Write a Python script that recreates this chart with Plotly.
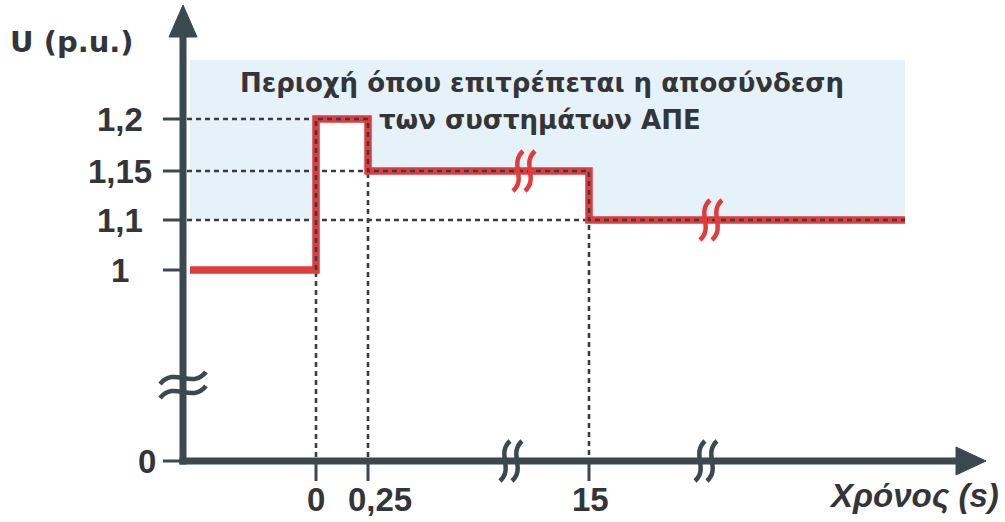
import numpy as np
import plotly.graph_objects as go

# ---------------- data ----------------
# step profile of the allowed voltage (p.u.) versus time (s)
step_t = [-0.5, 0.0, 0.25, 15.0, 60.0]     # start (schematic), 0, 0.25 s, 15 s, end (schematic)
step_u = [1.0, 1.2, 1.15, 1.1, 1.1]
region_top_u = 1.26                         # upper edge of the shaded "disconnection allowed" area

x_tick_vals = [0.0, 0.25, 15.0]
x_tick_text = ["0", "0,25", "15"]
y_tick_vals = [0.0, 1.0, 1.1, 1.15, 1.2]
y_tick_text = ["0", "1", "1,1", "1,15", "1,2"]

title_lines = ["Περιοχή όπου επιτρέπεται η αποσύνδεση", "των συστημάτων ΑΠΕ"]
y_title = "U (p.u.)"
x_title = "Χρόνος (s)"

# ---------------- schematic (broken) axis warps: layout ----------------
W, H = 1005, 522
t_knots = [-0.5, 0.0, 0.25, 15.0, 60.0]
x_knots = [190, 316, 368, 589, 905]            # horizontal positions
u_knots = [0.0, 1.0, 1.1, 1.15, 1.2, 1.26]
y_knots = [61, 252, 302, 351, 403, 462]        # vertical positions (from bottom)


def X(t):
    return np.interp(t, t_knots, x_knots)


def Y(u):
    return np.interp(u, u_knots, y_knots)


def P(py):  # pixel row (from top) -> data y
    return H - py


AX = "#3a4850"
RED = "#e03b3d"
DOT = "#3a3c42"
TXT = "#333538"
SHADE = "#e6f2f9"

x0_axis = 183            # vertical axis position
y0_axis = Y(0.0)         # horizontal axis position

fig = go.Figure()

# shaded region: above max(U, 1.1)
lower = np.maximum(np.array(step_u), 1.1)
px, py = [], []
for i in range(len(step_t) - 1):
    px += [X(step_t[i]), X(step_t[i + 1])]
    py += [Y(lower[i]), Y(lower[i])]
poly_x = px + [X(step_t[-1]), X(step_t[0])]
poly_y = py + [Y(region_top_u), Y(region_top_u)]
fig.add_trace(go.Scatter(x=poly_x, y=poly_y, fill="toself", fillcolor=SHADE,
                         mode="none", hoverinfo="skip", showlegend=False))

# dashed guide lines
dash = dict(color=DOT, width=2.6, dash="5px,4px")
fig.add_trace(go.Scatter(x=[x0_axis + 4, X(0.25)], y=[Y(1.2)] * 2, mode="lines",
                         line=dash, hoverinfo="skip", showlegend=False))
fig.add_trace(go.Scatter(x=[x0_axis + 4, X(15.0)], y=[Y(1.15)] * 2, mode="lines",
                         line=dash, hoverinfo="skip", showlegend=False))
fig.add_trace(go.Scatter(x=[x0_axis + 4, X(step_t[-1])], y=[Y(1.1)] * 2, mode="lines",
                         line=dash, hoverinfo="skip", showlegend=False))
for t, u in zip([0.0, 0.25, 15.0], [1.2, 1.2, 1.15]):
    fig.add_trace(go.Scatter(x=[X(t)] * 2, y=[Y(u), y0_axis + 4], mode="lines",
                             line=dash, hoverinfo="skip", showlegend=False))

# red step line
fig.add_trace(go.Scatter(x=X(step_t), y=Y(step_u), mode="lines",
                         line=dict(color=RED, width=7.5, shape="hv"),
                         hoverinfo="skip", showlegend=False))
# dark dotted core from t = 0 onward
core_t = [0.0] + step_t[1:]
core_u = [step_u[0]] + step_u[1:]
fig.add_trace(go.Scatter(x=X(core_t), y=Y(core_u), mode="lines",
                         line=dict(color=DOT, width=2.6, dash="5px,4px", shape="hv"),
                         hoverinfo="skip", showlegend=False))

shapes = []
# axes
shapes.append(dict(type="line", x0=x0_axis, x1=x0_axis, y0=y0_axis - 3.5, y1=P(34),
                   line=dict(color=AX, width=7)))
shapes.append(dict(type="line", x0=x0_axis - 3.5, x1=960, y0=y0_axis, y1=y0_axis,
                   line=dict(color=AX, width=7)))
# arrowheads
shapes.append(dict(type="path", path=f"M {x0_axis} {P(5)} L {x0_axis-14} {P(37)} L {x0_axis+14} {P(37)} Z",
                   fillcolor=AX, line=dict(color=AX, width=1)))
shapes.append(dict(type="path", path=f"M 986 {y0_axis} L 956 {y0_axis+14} L 956 {y0_axis-14} Z",
                   fillcolor=AX, line=dict(color=AX, width=1)))
# ticks
for u in y_tick_vals:
    shapes.append(dict(type="line", x0=163, x1=x0_axis, y0=Y(u), y1=Y(u),
                       line=dict(color=AX, width=3)))
for t in x_tick_vals:
    shapes.append(dict(type="line", x0=X(t), x1=X(t), y0=y0_axis, y1=y0_axis - 20,
                       line=dict(color=AX, width=3)))


def vbreak(cx, cy, color, h=20, w=5):
    out = []
    for dx in (-6, 6):
        x = cx + dx
        out.append(dict(type="path",
                        path=(f"M {x+w} {cy+h} C {x-w-4} {cy+h*0.35}, {x+w+4} {cy-h*0.35}, "
                              f"{x-w} {cy-h}"),
                        line=dict(color=color, width=4.5)))
    return out


def hbreak(cx, cy, color, w=23, h=6):
    out = []
    for dy in (7, -7):
        y = cy + dy
        out.append(dict(type="path",
                        path=(f"M {cx-w} {y-h} C {cx-w*0.35} {y+h+6}, {cx+w*0.35} {y-h-6}, "
                              f"{cx+w} {y+h}"),
                        line=dict(color=color, width=4.5)))
    return out


# axis breaks
shapes += hbreak(x0_axis, P(385), AX)
shapes += vbreak(511, y0_axis, AX)
shapes += vbreak(706, y0_axis, AX)
# line breaks
shapes += vbreak(524, Y(1.15), RED)
shapes += vbreak(711, Y(1.1), RED)

annotations = []
num_font = dict(family="Liberation Sans, Arial, sans-serif", size=33, color=TXT)
for u, txt in zip(y_tick_vals, y_tick_text):
    annotations.append(dict(x=147 if u == 0 else 120, y=Y(u), text=f"<b>{txt}</b>",
                            showarrow=False, xanchor="center", yanchor="middle", font=num_font))
x_label_pos = {0.0: 0, 0.25: 12, 15.0: 1}
for t, txt in zip(x_tick_vals, x_tick_text):
    annotations.append(dict(x=X(t) + x_label_pos[t], y=P(499), text=f"<b>{txt}</b>",
                            showarrow=False, xanchor="center", yanchor="middle", font=num_font))

title_font = dict(family="DejaVu Sans, Verdana, sans-serif", size=26, color=TXT)
annotations.append(dict(x=542, y=P(83), text=f"<b>{title_lines[0]}</b>", showarrow=False,
                        xanchor="center", yanchor="middle", font=title_font))
annotations.append(dict(x=540, y=P(120), text=f"<b>{title_lines[1]}</b>", showarrow=False,
                        xanchor="center", yanchor="middle", font=title_font))
annotations.append(dict(x=8, y=P(42), text=f"<b>{y_title}</b>", showarrow=False,
                        xanchor="left", yanchor="middle",
                        font=dict(family="DejaVu Sans, Verdana, sans-serif", size=29, color=TXT)))
annotations.append(dict(x=1001, y=P(495), text=f"<b><i>{x_title}</i></b>", showarrow=False,
                        xanchor="right", yanchor="middle",
                        font=dict(family="Liberation Sans, Arial, sans-serif", size=33, color=TXT)))

fig.update_layout(
    width=W, height=H,
    margin=dict(l=0, r=0, t=0, b=0),
    paper_bgcolor="white", plot_bgcolor="white",
    xaxis=dict(range=[0, W], visible=False, fixedrange=True),
    yaxis=dict(range=[0, H], visible=False, fixedrange=True),
    shapes=shapes, annotations=annotations, showlegend=False,
)

fig.write_html("out.html", config={"displayModeBar": False},
               post_script="document.body.style.margin='0';document.body.style.overflow='hidden';")
